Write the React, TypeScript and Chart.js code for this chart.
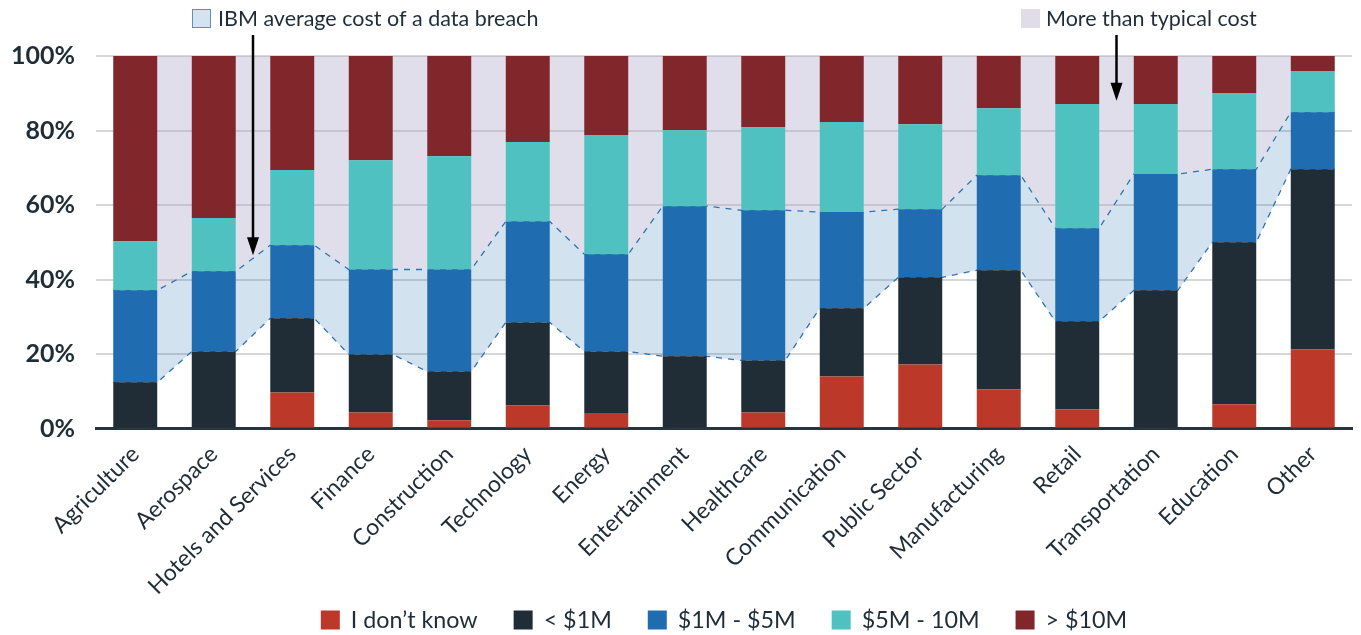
import React, { useEffect, useRef } from 'react';
import { Chart, registerables } from 'chart.js';
Chart.register(...registerables);

const categories = ['Agriculture', 'Aerospace', 'Hotels and Services', 'Finance', 'Construction', 'Technology', 'Energy', 'Entertainment', 'Healthcare', 'Communication', 'Public Sector', 'Manufacturing', 'Retail', 'Transportation', 'Education', 'Other'];
const dontKnow = [0, 0, 9.7, 4.3, 2.2, 6.2, 4.0, 0, 4.3, 14.0, 17.2, 10.5, 5.1, 0, 6.5, 21.2];
const under1M = [12.4, 20.7, 19.9, 15.6, 13.1, 22.3, 16.7, 19.4, 14.0, 18.3, 23.4, 32.0, 23.7, 37.1, 43.5, 48.4];
const m1to5 = [24.7, 21.5, 19.6, 22.8, 27.4, 27.1, 26.1, 40.3, 40.3, 25.8, 18.3, 25.5, 25.0, 31.2, 19.6, 15.3];
const m5to10 = [13.2, 14.3, 20.2, 29.3, 30.4, 21.3, 32.0, 20.4, 22.3, 24.2, 22.8, 18.0, 33.3, 18.8, 20.5, 11.1];
const over10M = [49.7, 43.5, 30.6, 28.0, 26.9, 23.1, 21.2, 19.9, 19.1, 17.7, 18.3, 14.0, 12.9, 12.9, 9.9, 4.0];
const yTicks = [0, 20, 40, 60, 80, 100];

const seriesNames = ['I don\u2019t know', '< $1M', '$1M - $5M', '$5M - 10M', '> $10M'];
const seriesColors = ['#bc3828', '#202c36', '#1f6cb0', '#4fc1c1', '#81262b'];
const TEXT = '#1f2d38';
const BAR_FRAC = 0.56;

function buildChart(canvas: HTMLCanvasElement) {
  const half = BAR_FRAC / 2;
  const lowerVals = categories.map((_, i) => dontKnow[i] + under1M[i]);
  const upperVals = categories.map((_, i) => lowerVals[i] + m1to5[i]);
  const edgePts = (vals: number[]) => {
    const pts: { x: number; y: number }[] = [];
    vals.forEach((v, i) => { pts.push({ x: i - half, y: v }); pts.push({ x: i + half, y: v }); });
    return pts;
  };
  const topVals = categories.map(() => 100);

  const overlay = {
    id: 'overlay',
    afterDraw(chart: any) {
      const ctx = chart.ctx;
      const area = chart.chartArea;
      const x = chart.scales.x;
      const y = chart.scales.y;
      ctx.save();
      ctx.font = '21.5px Lato';
      ctx.textBaseline = 'middle';
      ctx.textAlign = 'left';
      ctx.fillStyle = '#d3e3f0';
      ctx.fillRect(192.5, 9.5, 18, 18);
      ctx.strokeStyle = '#5b8fc5';
      ctx.lineWidth = 1;
      ctx.strokeRect(192.5, 9.5, 18, 18);
      ctx.fillStyle = TEXT;
      ctx.fillText('IBM average cost of a data breach', 218, 19);
      ctx.fillStyle = '#e0dde8';
      ctx.fillRect(1021, 9, 19, 19);
      ctx.fillStyle = TEXT;
      ctx.fillText('More than typical cost', 1046, 19);
      const arrow = (xv: number, yv: number) => {
        const ax = x.getPixelForValue(xv);
        const ay = y.getPixelForValue(yv);
        ctx.strokeStyle = '#000';
        ctx.lineWidth = 2.5;
        ctx.beginPath();
        ctx.moveTo(ax, 35);
        ctx.lineTo(ax, ay - 14);
        ctx.stroke();
        ctx.fillStyle = '#000';
        ctx.beginPath();
        ctx.moveTo(ax - 6, ay - 18);
        ctx.lineTo(ax + 6, ay - 18);
        ctx.lineTo(ax, ay);
        ctx.closePath();
        ctx.fill();
      };
      arrow(1.5, 46.5);
      arrow(12.5, 88);
      ctx.font = '23.3px Lato';
      const box = 19, gap = 11, spacing = 36;
      const widths = seriesNames.map((n) => box + gap + ctx.measureText(n).width);
      const total = widths.reduce((a, b) => a + b, 0) + spacing * (seriesNames.length - 1);
      let lx = (area.left + area.right) / 2 - total / 2;
      const ly = 620;
      seriesNames.forEach((n, i) => {
        ctx.fillStyle = seriesColors[i];
        ctx.fillRect(lx, ly - 9.5, box, box);
        ctx.fillStyle = TEXT;
        ctx.fillText(n, lx + box + gap, ly);
        lx += widths[i] + spacing;
      });
      ctx.restore();
    },
  };

  const barSets = [dontKnow, under1M, m1to5, m5to10, over10M].map((d, i) => ({
    type: 'bar' as const,
    label: seriesNames[i],
    data: d.map((v, j) => ({ x: j, y: v })),
    backgroundColor: seriesColors[i],
    stack: 's',
    grouped: false,
    order: 0,
    barPercentage: BAR_FRAC,
    categoryPercentage: 1,
  }));

  const lineBase = { type: 'line' as const, pointRadius: 0, order: 2 };

  return new Chart(canvas, {
    type: 'bar',
    data: {
      datasets: [
        ...barSets,
        {
          ...lineBase,
          label: 'lower',
          data: edgePts(lowerVals) as any,
          yAxisID: 'y2',
          borderColor: '#2f72b5',
          borderWidth: 1.3,
          borderDash: [6, 6],
          fill: false,
        },
        {
          ...lineBase,
          label: 'IBM average cost of a data breach',
          data: edgePts(upperVals) as any,
          yAxisID: 'y2',
          borderColor: '#2f72b5',
          borderWidth: 1.3,
          borderDash: [6, 6],
          fill: '-1',
          backgroundColor: 'rgba(31,108,176,0.2)',
        },
        {
          ...lineBase,
          label: 'More than typical cost',
          data: edgePts(topVals) as any,
          yAxisID: 'y2',
          borderWidth: 0,
          borderColor: 'rgba(0,0,0,0)',
          fill: '-1',
          backgroundColor: 'rgba(170,160,200,0.35)',
        },
      ] as any,
    },
    options: {
      animation: false,
      responsive: true,
      maintainAspectRatio: false,
      layout: { padding: { top: 56, right: 9, bottom: 31, left: 10 } },
      plugins: { legend: { display: false }, tooltip: { enabled: false } },
      scales: {
        x: {
          type: 'linear',
          stacked: true,
          offset: false,
          min: -0.5,
          max: categories.length - 0.5,
          afterBuildTicks: (s: any) => { s.ticks = categories.map((_, i) => ({ value: i })); },
          afterFit: (s: any) => { s.paddingLeft = 0; s.paddingRight = 0; },
          grid: { display: false },
          border: { display: true, color: '#28343e', width: 3 },
          ticks: {
            color: TEXT,
            font: { family: 'Lato', size: 23 },
            maxRotation: 45,
            minRotation: 45,
            autoSkip: false,
            padding: 4,
            callback: (v: any) => categories[Math.round(v)] ?? '',
          },
        },
        y: {
          stacked: true,
          min: 0,
          max: 100,
          afterBuildTicks: (s: any) => { s.ticks = yTicks.map((v) => ({ value: v })); },
          afterFit: (s: any) => { s.width = 86; },
          grid: { color: '#d7d7d7', lineWidth: 2, drawTicks: false },
          border: { display: false },
          ticks: {
            color: TEXT,
            font: { family: 'Lato', size: 25, weight: 'bold' },
            padding: 21,
            callback: (v: any) => v + '%',
          },
        },
        y2: { type: 'linear', display: false, min: 0, max: 100 },
      },
    } as any,
    plugins: [overlay],
  });
}

export default function App() {
  const ref = useRef<HTMLCanvasElement | null>(null);
  useEffect(() => {
    document.body.style.margin = '0';
    let chart: Chart | null = null;
    let cancelled = false;
    const fontSpecs = ['bold 25px Lato', '23px Lato', '21.5px Lato'];
    const loads = (document as any).fonts
      ? Promise.all(fontSpecs.map((f) => (document as any).fonts.load(f))).catch(() => null)
      : Promise.resolve(null);
    loads.then(() => {
      if (!cancelled && ref.current) chart = buildChart(ref.current);
    });
    return () => {
      cancelled = true;
      if (chart) chart.destroy();
    };
  }, []);
  return (
    <div style={{ width: 1361, height: 635, position: 'relative' }}>
      <canvas ref={ref} />
    </div>
  );
}
